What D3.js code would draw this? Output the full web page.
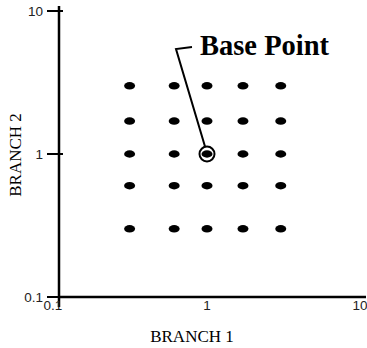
<!DOCTYPE html>
<html>
<head>
<meta charset="utf-8">
<script src="https://cdn.jsdelivr.net/npm/d3@7"></script>
<style>
  body { margin: 0; background: #fff; }
</style>
</head>
<body>
<div id="chart-area"></div>
<script>
// grid of branch values
var branch1 = [0.3, 0.6, 1, 1.75, 3.15];
var branch2 = [3, 1.7, 1, 0.6, 0.3];
var basePoint = [1, 1];
var tickValues = [0.1, 1, 10];
var tickLabels = ["0.1", "1", "10"];

var svg = d3.select("#chart-area").append("svg")
    .attr("width", 367)
    .attr("height", 348);

var x = d3.scaleLog()
    .domain([0.1, 10])
    .range([59, 355]);

var y = d3.scaleLog()
    .domain([0.1, 10])
    .range([297, 11]);

// axis lines
svg.append("line")
    .attr("x1", x(0.1)).attr("x2", 366)
    .attr("y1", y(0.1)).attr("y2", y(0.1))
    .attr("stroke", "#000").attr("stroke-width", 2.5);
svg.append("line")
    .attr("x1", x(0.1)).attr("x2", x(0.1))
    .attr("y1", 6).attr("y2", 307)
    .attr("stroke", "#000").attr("stroke-width", 2.5);

// y ticks
svg.selectAll(".ytick")
    .data(tickValues)
    .enter()
    .append("line")
    .attr("class", "ytick")
    .attr("x1", 47)
    .attr("x2", (d) => d == 0.1 ? x(0.1) : 63)
    .attr("y1", d => y(d))
    .attr("y2", d => y(d))
    .attr("stroke", "#000")
    .attr("stroke-width", 2);

svg.selectAll(".ylab")
    .data(tickValues)
    .enter()
    .append("text")
    .attr("class", "ylab")
    .attr("x", 43)
    .attr("y", d => y(d))
    .attr("dy", "0.35em")
    .attr("text-anchor", "end")
    .attr("font-family", "Liberation Sans, Arial, sans-serif")
    .attr("font-size", 13.5)
    .attr("fill", "#222")
    .text((d, i) => tickLabels[i]);

svg.selectAll(".xlab")
    .data(tickValues)
    .enter()
    .append("text")
    .attr("class", "xlab")
    .attr("x", (d, i) => x(d) + [-6, 0, 5][i])
    .attr("y", 310)
    .attr("text-anchor", "middle")
    .attr("font-family", "Liberation Sans, Arial, sans-serif")
    .attr("font-size", 13.5)
    .attr("fill", "#222")
    .text((d, i) => tickLabels[i]);

// axis titles
svg.append("text")
    .attr("x", 192)
    .attr("y", 342)
    .attr("text-anchor", "middle")
    .attr("font-family", "Liberation Serif, Times New Roman, serif")
    .attr("font-size", 17)
    .text("BRANCH 1");

svg.append("text")
    .attr("transform", "translate(21,155) rotate(-90)")
    .attr("text-anchor", "middle")
    .attr("font-family", "Liberation Serif, Times New Roman, serif")
    .attr("font-size", 17)
    .text("BRANCH 2");

// grid of points
var grid = [];
branch2.forEach(b2 => {
    branch1.forEach(b1 => {
        grid.push({ b1: b1, b2: b2 });
    });
});

svg.selectAll(".dot")
    .data(grid)
    .enter()
    .append("ellipse")
    .attr("class", "dot")
    .attr("cx", d => x(d.b1))
    .attr("cy", d => y(d.b2))
    .attr("rx", 5.5)
    .attr("ry", 3.7)
    .attr("fill", "#000");

// base point ring
svg.append("circle")
    .attr("cx", x(basePoint[0]))
    .attr("cy", y(basePoint[1]))
    .attr("r", 7.5)
    .attr("fill", "none")
    .attr("stroke", "#000")
    .attr("stroke-width", 2);

// callout
var bx = x(basePoint[0]), by = y(basePoint[1]);
svg.append("polyline")
    .attr("points", [[bx - 2, by - 7.5], [176, 49], [192, 47]].map(p => p.join(",")).join(" "))
    .attr("fill", "none")
    .attr("stroke", "#000")
    .attr("stroke-width", 2);

svg.append("text")
    .attr("x", 200)
    .attr("y", 55)
    .attr("font-family", "Liberation Serif, Times New Roman, serif")
    .attr("font-weight", "bold")
    .attr("font-size", 28.5)
    .text("Base Point");
</script>
</body>
</html>
